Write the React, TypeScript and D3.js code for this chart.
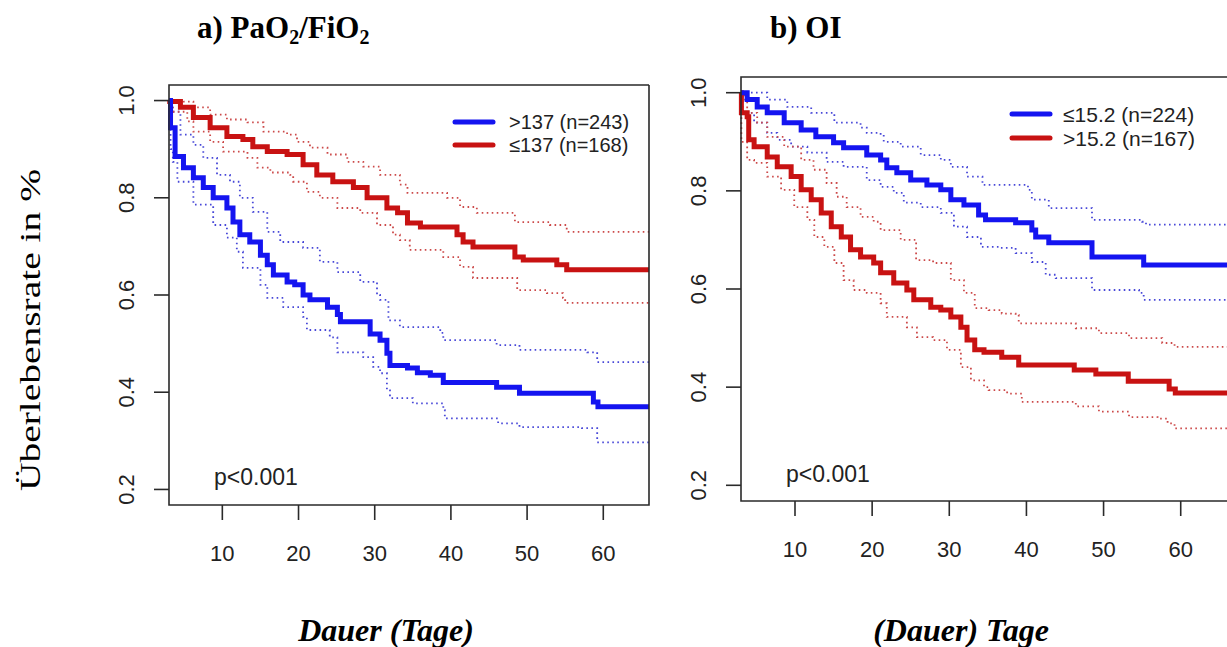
import React from "react";
import * as d3 from "d3";

// ---------- DATA ----------
const xTicks = [10, 20, 30, 40, 50, 60];
const yTicks = [0.2, 0.4, 0.6, 0.8, 1.0];

// Panel a) PaO2/FiO2 : blue = ">137 (n=243)", red = "≤137 (n=168)"
const aBlueMain: [number, number][] = [[3,1.0],[3.2,0.944],[3.8,0.885],[4.9,0.862],[6.2,0.841],[7.5,0.821],[8.8,0.8],[10.6,0.779],[11.4,0.75],[12.3,0.724],[13.6,0.709],[15,0.682],[15.9,0.662],[16.7,0.641],[18.5,0.627],[19.5,0.621],[20.6,0.6],[21.5,0.59],[23.8,0.575],[25.1,0.56],[25.5,0.545],[29.4,0.52],[30.7,0.507],[31.6,0.48],[32,0.455],[34.3,0.45],[35.6,0.44],[37.3,0.435],[39,0.42],[46,0.41],[49,0.398],[58.7,0.38],[59.3,0.37],[66,0.37]];
const aBlueUpper: [number, number][] = [[3,1.0],[3.5,0.977],[4.5,0.93],[6.2,0.909],[7.5,0.882],[9.3,0.847],[11,0.833],[12.3,0.8],[14,0.771],[15.9,0.73],[17.6,0.709],[20.6,0.697],[22.8,0.668],[25.1,0.647],[28.1,0.627],[30.3,0.6],[30.7,0.59],[31.8,0.548],[33.3,0.534],[38.6,0.522],[39,0.507],[46,0.497],[49,0.487],[57.9,0.482],[59.2,0.462],[66,0.462]];
const aBlueLower: [number, number][] = [[3,1.0],[3.2,0.9],[3.5,0.874],[4.1,0.833],[6.2,0.786],[8.8,0.744],[10.6,0.718],[11.9,0.689],[12.7,0.656],[15,0.621],[15.9,0.594],[18,0.575],[20.6,0.555],[21.1,0.528],[24.1,0.513],[25.1,0.482],[28.5,0.472],[29.8,0.452],[30.7,0.439],[31.6,0.404],[32,0.388],[35,0.377],[39,0.363],[39.2,0.346],[46.2,0.336],[49,0.328],[57.2,0.326],[59.2,0.297],[66,0.295]];
const aRedMain: [number, number][] = [[3,1.0],[3.1,0.998],[4.5,0.986],[6.2,0.965],[8.4,0.944],[10.6,0.926],[12.7,0.92],[14,0.905],[15.9,0.895],[18.5,0.889],[20.6,0.868],[22.4,0.847],[24.5,0.833],[27.2,0.821],[29,0.8],[31.6,0.779],[33,0.769],[34.3,0.748],[36,0.74],[40.8,0.724],[41.6,0.709],[42.9,0.699],[48.4,0.678],[49.5,0.672],[53.9,0.662],[55.2,0.652],[66,0.652]];
const aRedUpper: [number, number][] = [[3,1.0],[4.9,0.998],[6.2,0.986],[8.4,0.971],[10.6,0.961],[13.3,0.955],[15.4,0.936],[18.5,0.93],[19.8,0.915],[21.5,0.903],[23.8,0.889],[26.4,0.874],[28.5,0.864],[30.7,0.847],[33.3,0.827],[34.3,0.81],[39.5,0.8],[41.2,0.781],[43.4,0.769],[48.4,0.75],[53,0.744],[55.2,0.73],[66,0.73]];
const aRedLower: [number, number][] = [[3,1.0],[3.5,0.977],[5.4,0.957],[6.2,0.936],[8.4,0.915],[10.1,0.895],[13.3,0.882],[14.6,0.862],[16.3,0.852],[18.9,0.847],[19.3,0.833],[21.1,0.812],[22.8,0.8],[25.1,0.779],[28.1,0.769],[30.3,0.744],[32.4,0.724],[33.3,0.713],[34.6,0.693],[39,0.678],[41.2,0.658],[42.9,0.635],[48.7,0.61],[52.6,0.604],[54.7,0.594],[55,0.584],[66,0.584]];

// Panel b) OI : blue = "≤15.2 (n=224)", red = ">15.2 (n=167)"
const bBlueMain: [number, number][] = [[3,1.0],[3.8,0.986],[5.1,0.971],[6.4,0.959],[8.6,0.939],[10.8,0.924],[12.7,0.91],[15,0.898],[16.3,0.888],[19.3,0.873],[21.1,0.863],[21.9,0.847],[23.2,0.837],[25,0.822],[27.1,0.812],[28.9,0.802],[30.2,0.782],[31.9,0.771],[33.8,0.751],[34.7,0.741],[38.6,0.735],[40.7,0.72],[41.2,0.706],[42.9,0.694],[48.5,0.665],[55.2,0.649],[66,0.649]];
const bBlueUpper: [number, number][] = [[3,1.0],[6.4,0.986],[9,0.971],[12.1,0.959],[15.1,0.939],[18.5,0.929],[19.3,0.918],[21.1,0.914],[21.5,0.9],[23.7,0.89],[26.3,0.873],[28.9,0.863],[30.2,0.849],[32.3,0.829],[34.3,0.812],[40.2,0.802],[40.7,0.782],[42.9,0.765],[48.5,0.741],[55,0.737],[55.5,0.731],[66,0.731]];
const bBlueLower: [number, number][] = [[3,1.0],[3.2,0.959],[4.7,0.939],[6.4,0.918],[7.7,0.904],[9.5,0.89],[11.6,0.878],[14.1,0.859],[16.3,0.849],[19.3,0.822],[21.1,0.808],[22.8,0.796],[24.1,0.776],[26.3,0.767],[28.9,0.755],[30.6,0.727],[32.3,0.706],[34.1,0.686],[36.4,0.684],[38.6,0.673],[40.7,0.655],[42.5,0.629],[43.8,0.622],[48.5,0.598],[54.6,0.592],[55.2,0.578],[66,0.578]];
const bRedMain: [number, number][] = [[3,1.0],[3.05,0.959],[3.8,0.951],[4,0.904],[4.7,0.89],[6.4,0.869],[7.7,0.849],[9.5,0.829],[10.8,0.802],[12.1,0.782],[13.4,0.755],[14.7,0.727],[16,0.706],[17.2,0.68],[18.5,0.665],[20.2,0.653],[21.1,0.633],[22.8,0.612],[24.5,0.598],[25.4,0.578],[27.6,0.563],[28.9,0.557],[30.2,0.543],[31.5,0.522],[32.3,0.496],[33.3,0.476],[34.5,0.471],[36.8,0.461],[39,0.445],[46.2,0.435],[49,0.427],[53.2,0.412],[58.5,0.396],[59.3,0.388],[66,0.388]];
const bRedUpper: [number, number][] = [[3,1.0],[3.4,0.986],[3.8,0.959],[5.1,0.939],[6.4,0.91],[8.6,0.89],[10.8,0.863],[12.4,0.843],[14.1,0.816],[15.4,0.788],[16.7,0.767],[18.5,0.747],[20.2,0.737],[21.1,0.72],[23.7,0.7],[25.7,0.659],[27.9,0.653],[30.2,0.618],[31.9,0.592],[33.3,0.561],[35.1,0.557],[36.8,0.55],[38.6,0.547],[39,0.53],[46.4,0.52],[49.4,0.51],[53.3,0.5],[57.6,0.49],[59.2,0.482],[66,0.482]];
const bRedLower: [number, number][] = [[3,1.0],[3.05,0.9],[3.8,0.863],[4.7,0.857],[6.4,0.829],[8.2,0.802],[9.9,0.767],[11.6,0.741],[12.5,0.706],[13.8,0.686],[15.1,0.653],[16.3,0.618],[17.6,0.598],[19.3,0.592],[21.1,0.571],[21.9,0.543],[24.5,0.522],[25.8,0.502],[27.9,0.496],[29.7,0.476],[31.5,0.441],[32.8,0.414],[34.5,0.4],[35.1,0.394],[37.5,0.387],[39.4,0.37],[46.4,0.361],[49.4,0.35],[53.3,0.339],[57,0.336],[58.3,0.326],[59.2,0.316],[66,0.316]];

const aLegend = [">137 (n=243)", "≤137 (n=168)"];
const bLegend = ["≤15.2 (n=224)", ">15.2 (n=167)"];
const pText = "p<0.001";
const yLabel = "Überlebensrate in %";

// ---------- STYLE ----------
const BLUE = "#1414f0";
const RED = "#c81212";
const BLUE_CI = "#4848d8";
const RED_CI = "#cc4a4a";
const SANS = "'Liberation Sans', Arial, Helvetica, sans-serif";
const SERIF = "'Liberation Serif', 'Times New Roman', serif";

type Panel = {
  x0: number; x1: number; y0: number; y1: number;
  blue: [number, number][][]; red: [number, number][][];
  legend: string[]; legLineX: [number, number]; legTextX: number; legY: [number, number]; legSize: number;
  pX: number; pY: number; clipRight: boolean;
};

const panels: Panel[] = [
  { x0: 169, x1: 649, y0: 85, y1: 505,
    blue: [aBlueMain, aBlueUpper, aBlueLower], red: [aRedMain, aRedUpper, aRedLower],
    legend: aLegend, legLineX: [455, 493], legTextX: 509, legY: [122, 145], legSize: 20,
    pX: 214, pY: 485, clipRight: false },
  { x0: 741, x1: 1227, y0: 77, y1: 501,
    blue: [bBlueMain, bBlueUpper, bBlueLower], red: [bRedMain, bRedUpper, bRedLower],
    legend: bLegend, legLineX: [1012, 1050], legTextX: 1063, legY: [114, 138], legSize: 21,
    pX: 786, pY: 482, clipRight: true },
];

function PanelView({ p }: { p: Panel }) {
  const x = d3.scaleLinear().domain([3, 66]).range([p.x0, p.x1]);
  const y = d3.scaleLinear().domain([0.168, 1.032]).range([p.y1, p.y0]);
  const line = d3.line<[number, number]>().x(d => x(d[0])).y(d => y(d[1])).curve(d3.curveStepAfter);
  const boxRight = p.clipRight ? p.x1 + 3 : p.x1;
  return (
    <g>
      {[1, 2].map(i => (
        <path key={"bci" + i} d={line(p.blue[i]) || ""} fill="none" stroke={BLUE_CI} strokeWidth={1.8} strokeDasharray="1.6,3.4" />
      ))}
      {[1, 2].map(i => (
        <path key={"rci" + i} d={line(p.red[i]) || ""} fill="none" stroke={RED_CI} strokeWidth={1.8} strokeDasharray="1.6,3.4" />
      ))}
      <path d={line(p.red[0]) || ""} fill="none" stroke={RED} strokeWidth={5} />
      <path d={line(p.blue[0]) || ""} fill="none" stroke={BLUE} strokeWidth={5} />
      <path d={`M${boxRight},${p.y0}H${p.x0}V${p.y1}H${boxRight}${p.clipRight ? "" : "V" + p.y0}`} fill="none" stroke="#2a2a2a" strokeWidth={1.6} />
      {yTicks.map(t => (
        <g key={"y" + t}>
          <line x1={p.x0} x2={p.x0 - 15} y1={y(t)} y2={y(t)} stroke="#2a2a2a" strokeWidth={1.6} />
          <text transform={`translate(${p.x0 - 43},${y(t)}) rotate(-90)`} textAnchor="middle" dy="0.36em"
            fontFamily={SANS} fontSize={22} fill="#222">{t.toFixed(1)}</text>
        </g>
      ))}
      {xTicks.map(t => (
        <g key={"x" + t}>
          <line x1={x(t)} x2={x(t)} y1={p.y1} y2={p.y1 + 15} stroke="#2a2a2a" strokeWidth={1.6} />
          <text x={x(t)} y={p.y1 + 48} textAnchor="middle" dy="0.36em" fontFamily={SANS} fontSize={22} fill="#222">{t}</text>
        </g>
      ))}
      {[BLUE, RED].map((c, i) => (
        <g key={"leg" + i}>
          <line x1={p.legLineX[0]} x2={p.legLineX[1]} y1={p.legY[i]} y2={p.legY[i]} stroke={c} strokeWidth={5} strokeLinecap="round" />
          <text x={p.legTextX} y={p.legY[i]} dy="0.36em" fontFamily={SANS} fontSize={p.legSize} fill="#222">{p.legend[i]}</text>
        </g>
      ))}
      <text x={p.pX} y={p.pY} fontFamily={SANS} fontSize={23} fill="#222">{pText}</text>
    </g>
  );
}

export default function App() {
  return (
    <svg width={1227} height={647} style={{ position: "absolute", left: 0, top: 0, background: "#fff" }}>
      <rect width={1227} height={647} fill="#fff" />
      <text x={197} y={38} fontFamily={SERIF} fontWeight="bold" fontSize={31} fill="#000">
        a) PaO<tspan fontSize={20} dy={6}>2</tspan><tspan dy={-6}>/FiO</tspan><tspan fontSize={20} dy={6}>2</tspan>
      </text>
      <text x={770} y={38} fontFamily={SERIF} fontWeight="bold" fontSize={31} fill="#000">b) OI</text>
      <text transform="translate(40,330) rotate(-90)" textAnchor="middle" fontFamily={SERIF} fontSize={30}
        textLength={322} lengthAdjust="spacingAndGlyphs" fill="#000">{yLabel}</text>
      {panels.map((p, i) => <PanelView key={i} p={p} />)}
      <text x={386} y={641} textAnchor="middle" fontFamily={SERIF} fontWeight="bold" fontStyle="italic" fontSize={32} fill="#000">Dauer (Tage)</text>
      <text x={961} y={641} textAnchor="middle" fontFamily={SERIF} fontWeight="bold" fontStyle="italic" fontSize={32} fill="#000">(Dauer) Tage</text>
    </svg>
  );
}
